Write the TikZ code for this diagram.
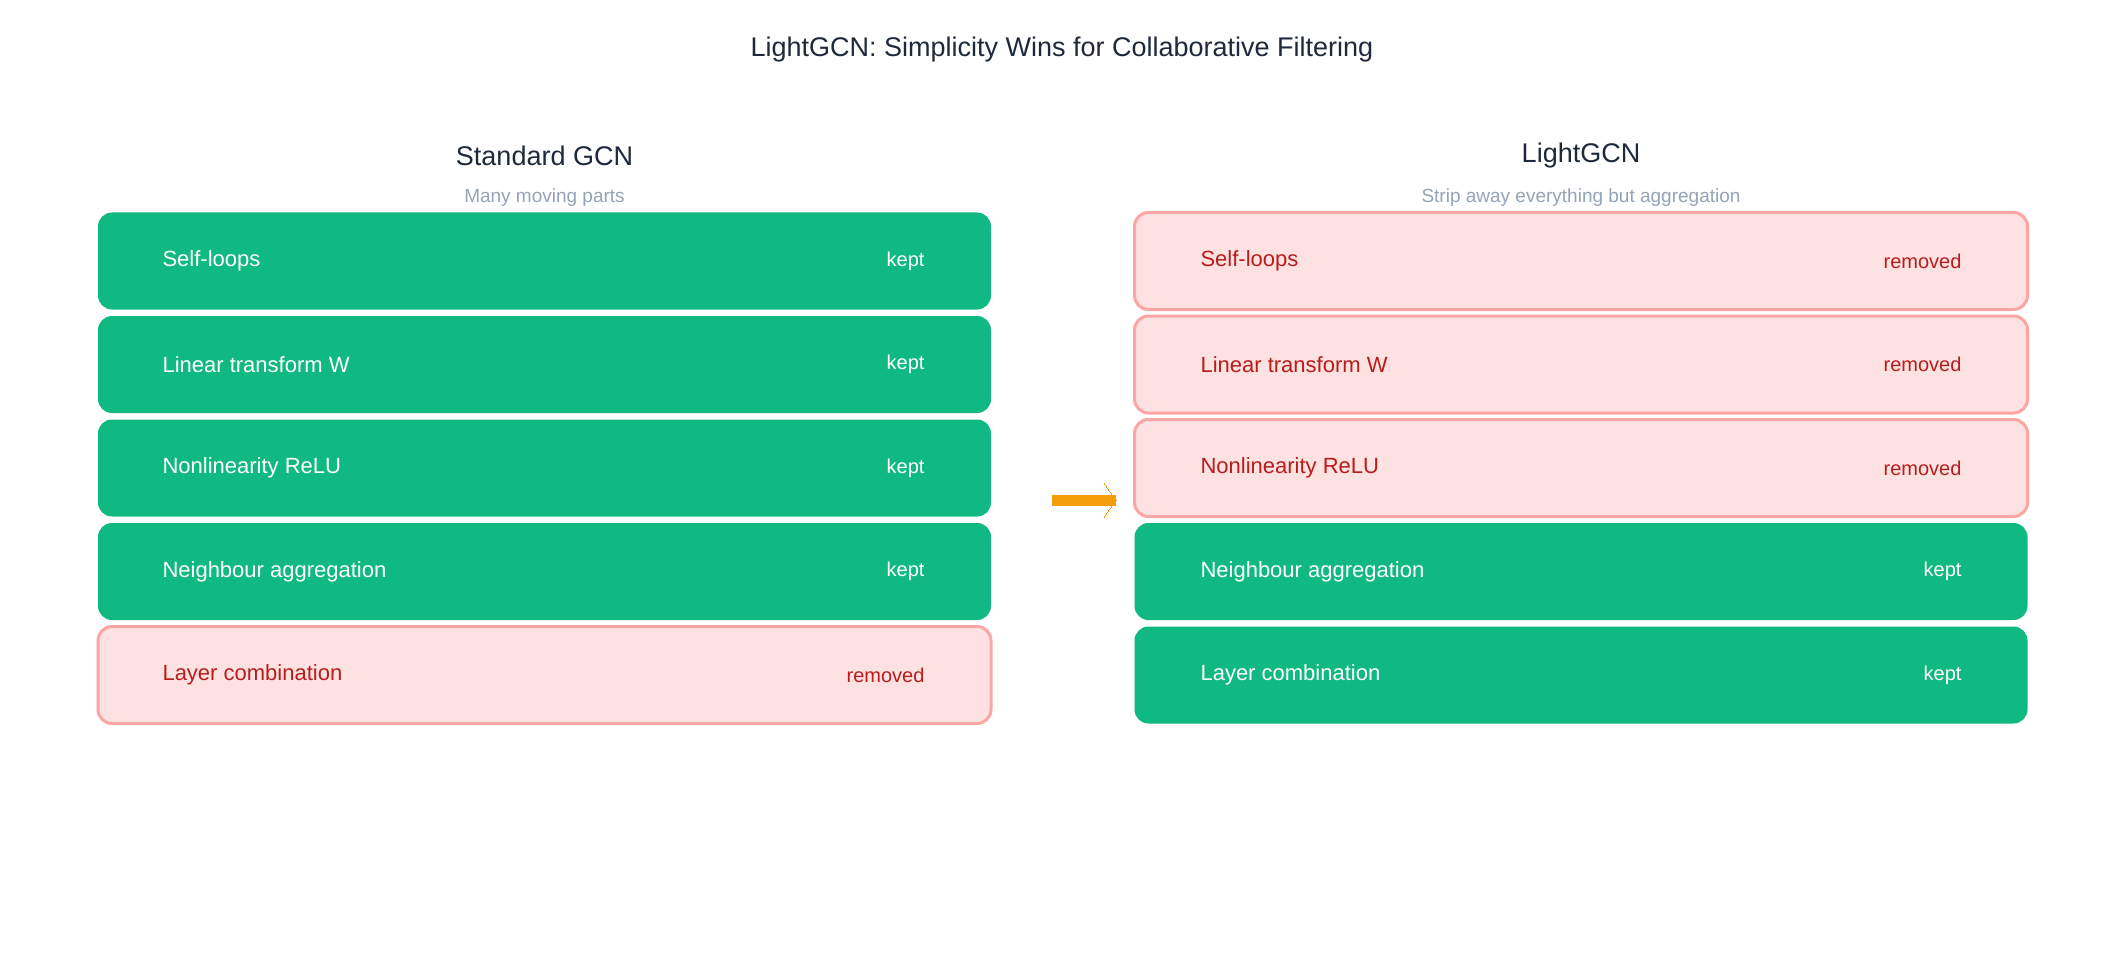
\documentclass[tikz,border=0pt]{standalone}
\usepackage{fontspec}
\setmainfont{Liberation Sans}
\usetikzlibrary{arrows.meta}
\definecolor{kg}{HTML}{10B981}
\definecolor{rf}{HTML}{FEE2E2}
\definecolor{rb}{HTML}{FCA5A5}
\definecolor{rt}{HTML}{B91C1C}
\definecolor{tt}{HTML}{1E293B}
\definecolor{st}{HTML}{94A3B8}
\definecolor{ar}{HTML}{F59E0B}
\begin{document}
\begin{tikzpicture}[x=1pt,y=-1pt,
  box/.style={rounded corners=14pt,minimum width=893pt,minimum height=97pt,inner sep=0pt},
  kept/.style={box,fill=kg},
  rem/.style={box,fill=rf,draw=rb,line width=3pt},
  lbl/.style={anchor=west,font=\fontsize{22}{26}\selectfont},
  tag/.style={anchor=east,font=\fontsize{20}{24}\selectfont}]
\useasboundingbox (0,0) rectangle (2125,968);
\node[text=tt,font=\fontsize{27}{32}\selectfont] (title) at (1062,50) {LightGCN: Simplicity Wins for Collaborative Filtering};
\node[text=tt,font=\fontsize{27}{32}\selectfont] (hl) at (544.5,156) {Standard GCN};
\node[text=st,font=\fontsize{19}{23}\selectfont] (sl) at (544.5,198) {Many moving parts};
\node[text=tt,font=\fontsize{27}{32}\selectfont] (hr) at (1581,156) {LightGCN};
\node[text=st,font=\fontsize{19}{23}\selectfont] (sr) at (1581,198) {Strip away everything but aggregation};
\foreach \i/\t/\lk/\rk in {0/Self-loops/1/0,1/Linear transform W/1/0,2/Nonlinearity ReLU/1/0,3/Neighbour aggregation/1/1,4/Layer combination/0/1}{
  \pgfmathsetmacro\yy{261+103.5*\i}
  \ifnum\lk=1
    \node[kept] (L\i) at (544.5,\yy) {};
    \node[lbl,text=white] (Lt\i) at (159,\yy) {\t};
    \node[tag,text=white] (Lk\i) at (928,\yy) {kept};
  \else
    \node[rem] (L\i) at (544.5,\yy) {};
    \node[lbl,text=rt] (Lt\i) at (159,\yy) {\t};
    \node[tag,text=rt] (Lk\i) at (928,\yy) {removed};
  \fi
  \ifnum\rk=1
    \node[kept] (R\i) at (1581,\yy) {};
    \node[lbl,text=white] (Rt\i) at (1197,\yy) {\t};
    \node[tag,text=white] (Rk\i) at (1965,\yy) {kept};
  \else
    \node[rem] (R\i) at (1581,\yy) {};
    \node[lbl,text=rt] (Rt\i) at (1197,\yy) {\t};
    \node[tag,text=rt] (Rk\i) at (1965,\yy) {removed};
  \fi
}
\coordinate (a1) at (1052,500);
\coordinate (a2) at (1116,500);
\draw[ar,line width=11pt,-{Straight Barb[length=12pt,width=34pt,line width=0pt]}] (a1) -- (a2);
\end{tikzpicture}
\end{document}
